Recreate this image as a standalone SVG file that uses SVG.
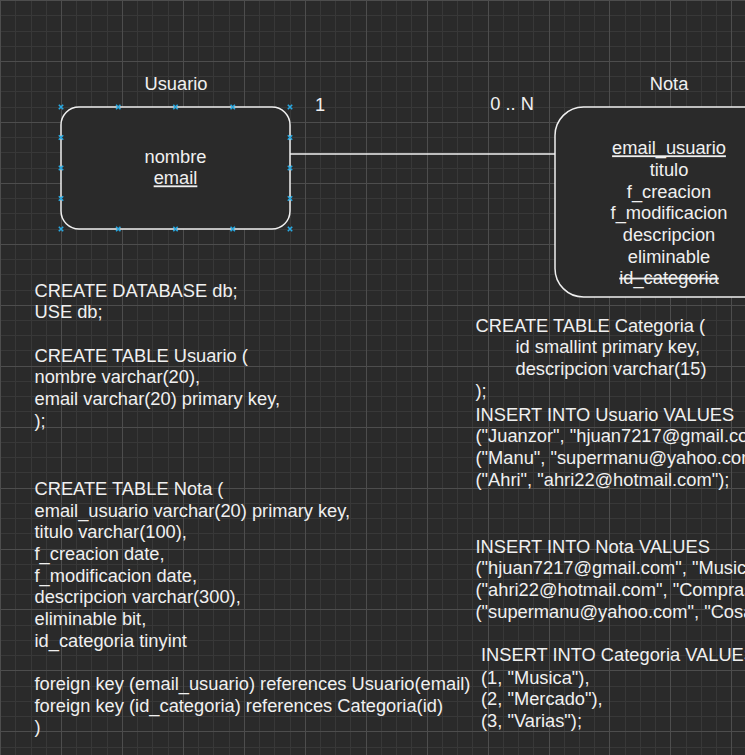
<svg xmlns="http://www.w3.org/2000/svg" width="745" height="755" viewBox="0 0 745 755">
  <defs>
    <style>
      .bg { fill: #2a2a2a; }
      .grid-minor { stroke: #383838; stroke-width: 1; fill: none; shape-rendering: crispEdges; }
      .grid-major { stroke: #4d4d4d; stroke-width: 1; fill: none; shape-rendering: crispEdges; }
      .entity { fill: #2a2a2a; stroke: #f0f0f0; stroke-width: 1.5; }
      .edge { stroke: #f0f0f0; stroke-width: 1.5; fill: none; }
      .txt { font-family: "Liberation Sans", Arial, sans-serif; font-size: 18.3px; fill: #f0f0f0; }
      .mid { text-anchor: middle; }
      .handle { stroke: #29a8e0; stroke-width: 1.6; fill: none; }
    </style>
    <path id="hx" class="handle" d="M-2.2,-2.2 L2.2,2.2 M-2.2,2.2 L2.2,-2.2"/>
  </defs>

  <!-- canvas and grid -->
  <rect class="bg" x="0" y="0" width="745" height="755"/>
  <g id="grid">
    <path class="grid-minor" d="M15.5,0V755 M31.5,0V755 M46.5,0V755 M76.5,0V755 M91.5,0V755 M107.5,0V755 M137.5,0V755 M152.5,0V755 M168.5,0V755 M198.5,0V755 M213.5,0V755 M229.5,0V755 M259.5,0V755 M274.5,0V755 M290.5,0V755 M320.5,0V755 M335.5,0V755 M350.5,0V755 M381.5,0V755 M396.5,0V755 M411.5,0V755 M442.5,0V755 M457.5,0V755 M472.5,0V755 M503.5,0V755 M518.5,0V755 M533.5,0V755 M564.5,0V755 M579.5,0V755 M594.5,0V755 M625.5,0V755 M640.5,0V755 M655.5,0V755 M686.5,0V755 M701.5,0V755 M716.5,0V755
      M0,15.5H745 M0,31.5H745 M0,46.5H745 M0,76.5H745 M0,91.5H745 M0,107.5H745 M0,137.5H745 M0,152.5H745 M0,168.5H745 M0,198.5H745 M0,213.5H745 M0,229.5H745 M0,259.5H745 M0,274.5H745 M0,290.5H745 M0,320.5H745 M0,335.5H745 M0,350.5H745 M0,381.5H745 M0,396.5H745 M0,411.5H745 M0,442.5H745 M0,457.5H745 M0,472.5H745 M0,503.5H745 M0,518.5H745 M0,533.5H745 M0,564.5H745 M0,579.5H745 M0,594.5H745 M0,625.5H745 M0,640.5H745 M0,655.5H745 M0,686.5H745 M0,701.5H745 M0,716.5H745 M0,747.5H745"/>
    <path class="grid-major" d="M0.5,0V755 M61.5,0V755 M122.5,0V755 M183.5,0V755 M244.5,0V755 M305.5,0V755 M366.5,0V755 M427.5,0V755 M488.5,0V755 M549.5,0V755 M609.5,0V755 M670.5,0V755 M731.5,0V755
      M0,0.5H745 M0,61.5H745 M0,122.5H745 M0,183.5H745 M0,244.5H745 M0,305.5H745 M0,366.5H745 M0,427.5H745 M0,488.5H745 M0,549.5H745 M0,609.5H745 M0,670.5H745 M0,731.5H745"/>
  </g>

  <!-- relationship -->
  <g id="connectors">
    <path class="edge" d="M290,154 H555"/>
    <text class="txt mid" x="320" y="111">1</text>
    <text class="txt mid" x="512" y="110">0 .. N</text>
  </g>

  <!-- Usuario entity -->
  <g id="node-usuario">
    <text class="txt mid" x="176" y="90">Usuario</text>
    <rect class="entity" x="61" y="107" width="229" height="122" rx="18" ry="18"/>
    <text class="txt mid" x="175.5" y="162.7">nombre</text>
    <text class="txt mid" x="175.5" y="184.4" text-decoration="underline">email</text>
    <g id="usuario-handles">
      <use href="#hx" x="61" y="107"/>
      <use href="#hx" x="118.25" y="107"/>
      <use href="#hx" x="175.5" y="107"/>
      <use href="#hx" x="232.75" y="107"/>
      <use href="#hx" x="290" y="107"/>
      <use href="#hx" x="61" y="137.5"/>
      <use href="#hx" x="61" y="168"/>
      <use href="#hx" x="61" y="198.5"/>
      <use href="#hx" x="290" y="137.5"/>
      <use href="#hx" x="290" y="168"/>
      <use href="#hx" x="290" y="198.5"/>
      <use href="#hx" x="61" y="229"/>
      <use href="#hx" x="118.25" y="229"/>
      <use href="#hx" x="175.5" y="229"/>
      <use href="#hx" x="232.75" y="229"/>
      <use href="#hx" x="290" y="229"/>
    </g>
  </g>

  <!-- Nota entity -->
  <g id="node-nota">
    <text class="txt mid" x="669" y="90">Nota</text>
    <rect class="entity" x="555" y="107" width="228" height="190" rx="28.5" ry="28.5"/>
    <text class="txt mid" x="669" y="154.3" text-decoration="underline">email_usuario</text>
    <text class="txt mid" x="669" y="176">titulo</text>
    <text class="txt mid" x="669" y="197.6">f_creacion</text>
    <text class="txt mid" x="669" y="219.3">f_modificacion</text>
    <text class="txt mid" x="669" y="240.9">descripcion</text>
    <text class="txt mid" x="669" y="262.6">eliminable</text>
    <text class="txt mid" x="669" y="284.2" text-decoration="line-through">id_categoria</text>
  </g>

  <!-- SQL: database and Usuario table -->
  <g id="sql-usuario">
    <text class="txt" x="34.5" y="296.7">CREATE DATABASE db;</text>
    <text class="txt" x="34.5" y="318.4">USE db;</text>
    <text class="txt" x="34.5" y="361.7">CREATE TABLE Usuario (</text>
    <text class="txt" x="34.5" y="383.4">nombre varchar(20),</text>
    <text class="txt" x="34.5" y="405">email varchar(20) primary key,</text>
    <text class="txt" x="34.5" y="426.7">);</text>
  </g>

  <!-- SQL: Nota table -->
  <g id="sql-nota">
    <text class="txt" x="34.5" y="495">CREATE TABLE Nota (</text>
    <text class="txt" x="34.5" y="516.7">email_usuario varchar(20) primary key,</text>
    <text class="txt" x="34.5" y="538.3">titulo varchar(100),</text>
    <text class="txt" x="34.5" y="560">f_creacion date,</text>
    <text class="txt" x="34.5" y="581.7">f_modificacion date,</text>
    <text class="txt" x="34.5" y="603.3">descripcion varchar(300),</text>
    <text class="txt" x="34.5" y="625">eliminable bit,</text>
    <text class="txt" x="34.5" y="646.7">id_categoria tinyint</text>
    <text class="txt" x="34.5" y="690">foreign key (email_usuario) references Usuario(email)</text>
    <text class="txt" x="34.5" y="711.7">foreign key (id_categoria) references Categoria(id)</text>
    <text class="txt" x="34.5" y="733.3">)</text>
  </g>

  <!-- SQL: Categoria table -->
  <g id="sql-categoria">
    <text class="txt" x="475.5" y="331.7">CREATE TABLE Categoria (</text>
    <text class="txt" x="515.5" y="353.3">id smallint primary key,</text>
    <text class="txt" x="515.5" y="375">descripcion varchar(15)</text>
    <text class="txt" x="475.5" y="396.7">);</text>
  </g>

  <!-- SQL: inserts -->
  <g id="sql-insert-usuario">
    <text class="txt" x="475.5" y="420.7">INSERT INTO Usuario VALUES</text>
    <text class="txt" x="475.5" y="442.4">("Juanzor", "hjuan7217@gmail.com"),</text>
    <text class="txt" x="475.5" y="464">("Manu", "supermanu@yahoo.com"),</text>
    <text class="txt" x="475.5" y="485.7">("Ahri", "ahri22@hotmail.com");</text>
  </g>
  <g id="sql-insert-nota">
    <text class="txt" x="475.5" y="552.7">INSERT INTO Nota VALUES</text>
    <text class="txt" x="475.5" y="574.4">("hjuan7217@gmail.com", "Musica",</text>
    <text class="txt" x="475.5" y="596">("ahri22@hotmail.com", "Compras",</text>
    <text class="txt" x="475.5" y="617.7">("supermanu@yahoo.com", "Cosas",</text>
  </g>
  <g id="sql-insert-categoria">
    <text class="txt" x="481" y="661">INSERT INTO Categoria VALUES</text>
    <text class="txt" x="481" y="683.7">(1, "Musica"),</text>
    <text class="txt" x="481" y="705.4">(2, "Mercado"),</text>
    <text class="txt" x="481" y="727">(3, "Varias");</text>
  </g>
</svg>
